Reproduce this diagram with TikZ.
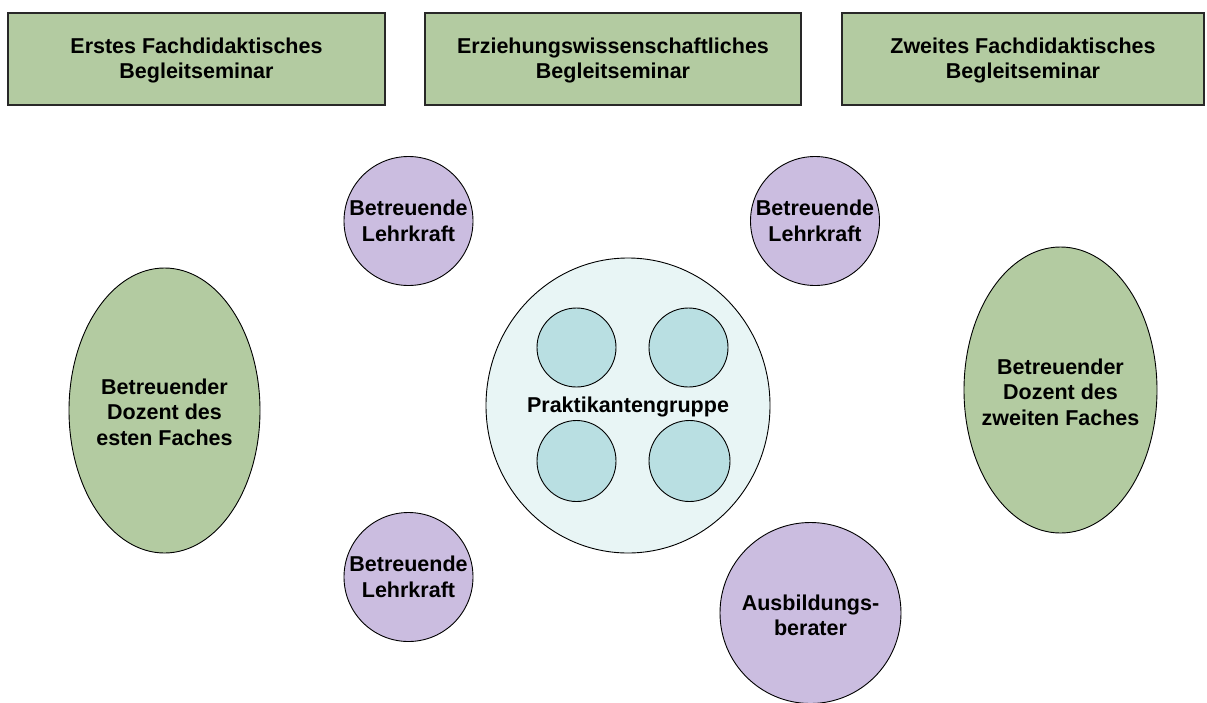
\documentclass[tikz,border=0pt]{standalone}
\usepackage{fontspec}
\setmainfont{Liberation Sans}
\usetikzlibrary{shapes.geometric}
\definecolor{boxgreen}{RGB}{179,203,161}
\definecolor{lilac}{RGB}{203,189,224}
\definecolor{palecyan}{RGB}{232,245,245}
\definecolor{tealc}{RGB}{185,223,226}
\definecolor{edgegray}{RGB}{40,40,40}
\tikzset{
  seminar/.style={draw=edgegray, line width=1.2pt, fill=boxgreen},
  blob/.style={ellipse, draw=black, line width=0.9pt, inner sep=0pt},
  lehr/.style={blob, fill=lilac},
  dozent/.style={blob, fill=boxgreen},
  grp/.style={blob, fill=palecyan},
  member/.style={blob, fill=tealc},
  txt/.style={align=center, font=\bfseries\fontsize{21.5}{25.6}\selectfont, inner sep=0pt}
}
\begin{document}
\begin{tikzpicture}[x=1pt, y=-1pt]
\useasboundingbox (0,0) rectangle (1207,702);
\fill[white] (0,0) rectangle (1207,702);
% seminar boxes
\draw[seminar] (8,13) rectangle (385,105);
\node[txt] (s1) at (196.5,60.5) {Erstes Fachdidaktisches\\Begleitseminar};
\draw[seminar] (425,13) rectangle (801,105);
\node[txt] (s2) at (613,60.5) {Erziehungswissenschaftliches\\Begleitseminar};
\draw[seminar] (842,13) rectangle (1204,105);
\node[txt] (s3) at (1023,60.5) {Zweites Fachdidaktisches\\Begleitseminar};
% teachers
\node[lehr, minimum width=129pt, minimum height=129pt] (l1) at (408.5,221) {};
\node[txt] (l1t) at (l1) {Betreuende\\Lehrkraft};
\node[lehr, minimum width=129pt, minimum height=129pt] (l2) at (815,221) {};
\node[txt] (l2t) at (l2) {Betreuende\\Lehrkraft};
\node[lehr, minimum width=129pt, minimum height=129pt] (l3) at (408.5,577) {};
\node[txt] (l3t) at (l3) {Betreuende\\Lehrkraft};
\node[lehr, minimum width=181pt, minimum height=181pt] (ab) at (810.5,613) {};
\node[txt] (abt) at (810.5,615.5) {Ausbildungs-\\berater};
% lecturers
\node[dozent, minimum width=191pt, minimum height=285pt] (d1) at (164.5,410.5) {};
\node[txt] (d1t) at (164.5,412) {Betreuender\\Dozent des\\esten Faches};
\node[dozent, minimum width=193pt, minimum height=286pt] (d2) at (1060.5,390) {};
\node[txt] (d2t) at (1060.5,392) {Betreuender\\Dozent des\\zweiten Faches};
% group
\node[grp, minimum width=284pt, minimum height=295pt] (g) at (628,405.5) {};
\node[member, minimum width=79pt, minimum height=79pt] (m1) at (576.5,347.5) {};
\node[member, minimum width=79pt, minimum height=79pt] (m2) at (688.5,347.5) {};
\node[member, minimum width=79pt, minimum height=81pt] (m3) at (576.5,461) {};
\node[member, minimum width=81pt, minimum height=81pt] (m4) at (689.5,461) {};
\node[txt] (gt) at (628,407) {Praktikantengruppe};
\end{tikzpicture}
\end{document}
